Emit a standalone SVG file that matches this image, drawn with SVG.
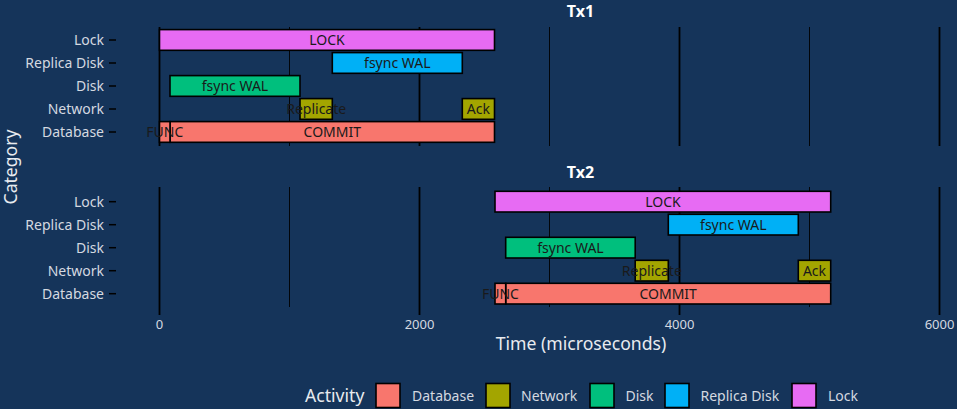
<svg xmlns="http://www.w3.org/2000/svg" width="957" height="409" viewBox="0 0 957 409">
<style>
text{font-family:"Noto Sans","Open Sans","DejaVu Sans",sans-serif}
.bg{fill:#15345a}
.maj{stroke:#000;stroke-width:1.8}
.min{stroke:#000;stroke-width:0.9}
.tick{stroke:#000;stroke-width:1.5}
.ylab{fill:#d4d9e0;font-size:14px;text-anchor:end}
.xlab{fill:#d4d9e0;font-size:13px;text-anchor:middle}
.title{fill:#ffffff;font-size:16px;font-weight:bold;text-anchor:middle}
.atitle{fill:#e8ebef;font-size:17.6px}
.bar{stroke:#000;stroke-width:1.6}
.blab{fill:#1a1a1a;font-size:14px;text-anchor:middle}
.db{fill:#F8766D}.nw{fill:#A3A500}.dk{fill:#00BF7D}.rd{fill:#00B0F6}.lk{fill:#E76BF3}
.leg{fill:#d4d9e0;font-size:14px}
</style>
<rect class="bg" x="0" y="0" width="957" height="409"/>

<g id="grid">
  <line class="maj" x1="159.5" y1="27" x2="159.5" y2="146"/>
  <line class="min" x1="289.5" y1="27" x2="289.5" y2="146"/>
  <line class="maj" x1="419.5" y1="27" x2="419.5" y2="146"/>
  <line class="min" x1="549.5" y1="27" x2="549.5" y2="146"/>
  <line class="maj" x1="679.5" y1="27" x2="679.5" y2="146"/>
  <line class="min" x1="809.5" y1="27" x2="809.5" y2="146"/>
  <line class="maj" x1="939.5" y1="27" x2="939.5" y2="146"/>
  <line class="maj" x1="159.5" y1="187" x2="159.5" y2="315"/>
  <line class="min" x1="289.5" y1="187" x2="289.5" y2="307"/>
  <line class="maj" x1="419.5" y1="187" x2="419.5" y2="315"/>
  <line class="min" x1="549.5" y1="187" x2="549.5" y2="307"/>
  <line class="maj" x1="679.5" y1="187" x2="679.5" y2="315"/>
  <line class="min" x1="809.5" y1="187" x2="809.5" y2="307"/>
  <line class="maj" x1="939.5" y1="187" x2="939.5" y2="315"/>
</g>

<g id="axes">
  <text class="title" x="580.5" y="17">Tx1</text>
  <text class="title" x="580.5" y="178">Tx2</text>
  <g id="yaxis1">
    <line class="tick" x1="109" y1="40" x2="116" y2="40"/>
    <line class="tick" x1="109" y1="63" x2="116" y2="63"/>
    <line class="tick" x1="109" y1="86" x2="116" y2="86"/>
    <line class="tick" x1="109" y1="109" x2="116" y2="109"/>
    <line class="tick" x1="109" y1="132" x2="116" y2="132"/>
    <text class="ylab" x="104" y="45">Lock</text>
    <text class="ylab" x="104" y="68">Replica Disk</text>
    <text class="ylab" x="104" y="91">Disk</text>
    <text class="ylab" x="104" y="114">Network</text>
    <text class="ylab" x="104" y="137">Database</text>
  </g>
  <g id="yaxis2">
    <line class="tick" x1="109" y1="201.7" x2="116" y2="201.7"/>
    <line class="tick" x1="109" y1="224.7" x2="116" y2="224.7"/>
    <line class="tick" x1="109" y1="247.7" x2="116" y2="247.7"/>
    <line class="tick" x1="109" y1="270.7" x2="116" y2="270.7"/>
    <line class="tick" x1="109" y1="293.7" x2="116" y2="293.7"/>
    <text class="ylab" x="104" y="206.7">Lock</text>
    <text class="ylab" x="104" y="229.7">Replica Disk</text>
    <text class="ylab" x="104" y="252.7">Disk</text>
    <text class="ylab" x="104" y="275.7">Network</text>
    <text class="ylab" x="104" y="298.7">Database</text>
  </g>
  <g id="xaxis">
    <text class="xlab" x="159.5" y="329">0</text>
    <text class="xlab" x="419.5" y="329">2000</text>
    <text class="xlab" x="679.5" y="329">4000</text>
    <text class="xlab" x="939.5" y="329">6000</text>
  </g>
  <text class="atitle" x="581" y="350" text-anchor="middle">Time (microseconds)</text>
  <text class="atitle" x="0" y="0" text-anchor="middle" transform="translate(16.5,167) rotate(-90)">Category</text>
</g>

<g id="tx1">
  <g id="tx1-lock"><rect class="bar lk" x="159.5" y="29.6" width="335" height="20.7"/><text class="blab" x="327" y="45">LOCK</text></g>
  <g id="tx1-replica"><rect class="bar rd" x="332.3" y="52.6" width="130" height="20.7"/><text class="blab" x="397.3" y="68">fsync WAL</text></g>
  <g id="tx1-disk"><rect class="bar dk" x="170" y="75.6" width="130" height="20.7"/><text class="blab" x="235" y="91">fsync WAL</text></g>
  <g id="tx1-replicate"><rect class="bar nw" x="300" y="98.6" width="32.3" height="20.7"/><text class="blab" x="316.2" y="114">Replicate</text></g>
  <g id="tx1-ack"><rect class="bar nw" x="462.3" y="98.6" width="32.2" height="20.7"/><text class="blab" x="478.4" y="114">Ack</text></g>
  <g id="tx1-commit"><rect class="bar db" x="170" y="121.6" width="324.5" height="20.7"/><text class="blab" x="332.3" y="137">COMMIT</text></g>
  <g id="tx1-func"><rect class="bar db" x="159.5" y="121.6" width="10.5" height="20.7"/><text class="blab" x="164.8" y="137">FUNC</text></g>
</g>

<g id="tx2">
  <g id="tx2-lock"><rect class="bar lk" x="495" y="191.3" width="335.7" height="20.7"/><text class="blab" x="662.9" y="206.7">LOCK</text></g>
  <g id="tx2-replica"><rect class="bar rd" x="668.3" y="214.3" width="130" height="20.7"/><text class="blab" x="733.3" y="229.7">fsync WAL</text></g>
  <g id="tx2-disk"><rect class="bar dk" x="505.7" y="237.3" width="129.5" height="20.7"/><text class="blab" x="570.5" y="252.7">fsync WAL</text></g>
  <g id="tx2-replicate"><rect class="bar nw" x="635.2" y="260.3" width="33.1" height="20.7"/><text class="blab" x="651.8" y="275.7">Replicate</text></g>
  <g id="tx2-ack"><rect class="bar nw" x="798.3" y="260.3" width="32.4" height="20.7"/><text class="blab" x="814.5" y="275.7">Ack</text></g>
  <g id="tx2-commit"><rect class="bar db" x="505.7" y="283.3" width="325" height="20.7"/><text class="blab" x="668.2" y="298.7">COMMIT</text></g>
  <g id="tx2-func"><rect class="bar db" x="495" y="283.3" width="10.7" height="20.7"/><text class="blab" x="500.4" y="298.7">FUNC</text></g>
</g>

<g id="legend">
  <text class="atitle" x="305" y="402">Activity</text>
  <rect class="bar db" x="376" y="383.5" width="24" height="24"/><text class="leg" x="412" y="400.5">Database</text>
  <rect class="bar nw" x="486" y="383.5" width="24" height="24"/><text class="leg" x="521" y="400.5">Network</text>
  <rect class="bar dk" x="590" y="383.5" width="24" height="24"/><text class="leg" x="625.5" y="400.5">Disk</text>
  <rect class="bar rd" x="665" y="383.5" width="24" height="24"/><text class="leg" x="700.5" y="400.5">Replica Disk</text>
  <rect class="bar lk" x="792" y="383.5" width="24" height="24"/><text class="leg" x="828" y="400.5">Lock</text>
</g>
</svg>
